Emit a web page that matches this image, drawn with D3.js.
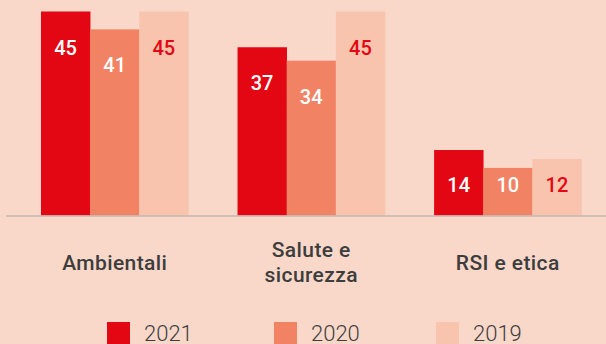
<!DOCTYPE html>
<html>
<head>
<meta charset="utf-8">
<script src="https://cdn.jsdelivr.net/npm/d3@7"></script>
<style>
  html, body { margin: 0; padding: 0; background: #f9d8ca; }
  svg { display: block; font-family: Roboto, "Noto Sans", sans-serif; }
</style>
</head>
<body>
<svg id="chart" width="606" height="344"></svg>
<script>
// Categories, each split over multiple lines for the axis labels
const categories = ["Ambientali", "Salute e sicurezza", "RSI e etica"];
const categoryLines = [["Ambientali"], ["Salute e", "sicurezza"], ["RSI e etica"]];
const years = ["2021", "2020", "2019"];

// Values per year, in category order
const values2021 = [45, 37, 14];
const values2020 = [41, 34, 10];
const values2019 = [45, 45, 12];
const seriesValues = [values2021, values2020, values2019];

const colors = ["#e30613", "#f18364", "#f9c4ae"];
const labelColors = ["#ffffff", "#ffffff", "#e30613"];

const svg = d3.select("#chart");
const baseY = 215.5;

const x0 = d3.scaleBand()
  .domain(categories)
  .range([41, 581.5])
  .paddingInner(0.25)
  .paddingOuter(0);

const x1 = d3.scaleBand()
  .domain(years)
  .range([0, x0.bandwidth()])
  .padding(0);

const y = d3.scaleLinear()
  .domain([0, 45])
  .range([212.6, 11.5]);

const rows = categories.map((c, i) => ({
  category: c,
  bars: years.map((yr, j) => ({ year: yr, idx: j, value: seriesValues[j][i] }))
}));

const groups = svg.selectAll("g.group")
  .data(rows)
  .join("g")
  .attr("class", "group")
  .attr("transform", d => `translate(${x0(d.category)},0)`);

groups.selectAll("rect")
  .data(d => d.bars)
  .join("rect")
  .attr("x", d => x1(d.year))
  .attr("y", d => y(d.value))
  .attr("width", x1.bandwidth() + 0.3)
  .attr("height", d => baseY - y(d.value))
  .attr("fill", d => colors[d.idx]);

// Value labels sit near the bar top, but never lower than a common floor
groups.selectAll("text.value")
  .data(d => d.bars)
  .join("text")
  .attr("class", "value")
  .attr("x", d => x1(d.year) + x1.bandwidth() / 2)
  .attr("y", d => Math.min(y(d.value) + 43, 192))
  .attr("text-anchor", "middle")
  .attr("font-size", 20)
  .attr("font-weight", 500)
  .attr("fill", d => labelColors[d.idx])
  .text(d => d.value);

// Baseline
svg.append("line")
  .attr("x1", 6).attr("x2", 606)
  .attr("y1", baseY + 0.5).attr("y2", baseY + 0.5)
  .attr("stroke", "#c4b6af")
  .attr("stroke-width", 1.5);

// Category labels
const catLabels = svg.selectAll("text.cat")
  .data(categories)
  .join("text")
  .attr("class", "cat")
  .attr("x", d => x0(d) + x0.bandwidth() / 2)
  .attr("y", (d, i) => categoryLines[i].length > 1 ? 257 : 269.5)
  .attr("text-anchor", "middle")
  .attr("font-size", 21)
  .attr("font-weight", 500)
  .attr("letter-spacing", 0.4)
  .attr("fill", "#3d3d3d");

catLabels.each(function(d, i) {
  const t = d3.select(this);
  categoryLines[i].forEach((line, k) => {
    t.append("tspan")
      .attr("x", x0(d) + x0.bandwidth() / 2)
      .attr("dy", k === 0 ? 0 : 25)
      .text(line);
  });
});

// Legend
const legendX = [107, 274, 436];
const legend = svg.selectAll("g.legend")
  .data(years)
  .join("g")
  .attr("class", "legend")
  .attr("transform", (d, i) => `translate(${legendX[i]},322)`);

legend.append("rect")
  .attr("width", 23)
  .attr("height", 23)
  .attr("fill", (d, i) => colors[i]);

legend.append("text")
  .attr("x", 37)
  .attr("y", 19)
  .attr("font-size", 22)
  .attr("font-weight", 300)
  .attr("fill", "#3d3d3d")
  .text(d => d);
</script>
</body>
</html>
